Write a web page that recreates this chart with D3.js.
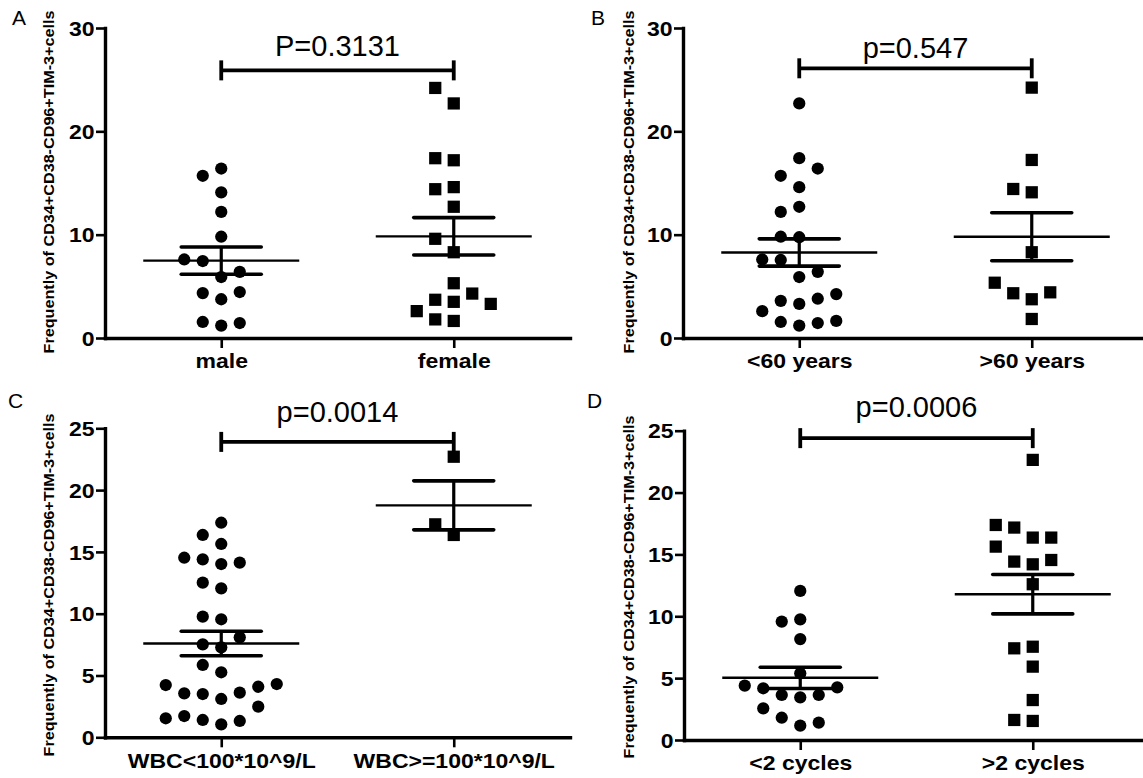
<!DOCTYPE html>
<html>
<head>
<meta charset="utf-8">
<script src="https://cdn.jsdelivr.net/npm/d3@7"></script>
<style>
body { margin: 0; background: #fff; }
text { font-family: "Liberation Sans", Arial, sans-serif; fill: #000; }
</style>
</head>
<body>
<svg id="fig" width="1143" height="778"></svg>
<script>
// values, listed in the order the points get placed
const maleVals = [16.4, 15.7, 14.1, 12.2, 9.8, 5.9, 7.45, 6.4, 7.6, 3.75, 4.35, 4.45, 1.2, 1.55, 1.45]
const femaleVals = [22.7, 24.2, 17.2, 17.4, 14.6, 14.4, 12.7, 8.3, 9.6, 3.5, 3.7, 4.3, 2.6, 3.3, 5.3, 1.65, 1.8]
const under60Vals = [22.7, 17.4, 15.7, 16.4, 14.6, 12.7, 12.2, 9.75, 9.8, 5.9, 7.55, 6.4, 7.6, 3.3, 3.6, 3.8, 2.6, 4.25, 1.2, 1.55, 1.45, 1.65]
const over60Vals = [24.23, 17.23, 14.1, 14.42, 8.3, 3.75, 4.33, 4.42, 5.35, 1.84]
const wbcLowVals = [17.36, 16.37, 15.64, 14.02, 14.4, 14.13, 14.53, 12.05, 12.51, 9.55, 9.76, 7.28, 7.52, 8.09, 5.26, 5.85, 3.1, 3.5, 3.61, 3.56, 4.09, 4.23, 4.31, 2.48, 1.05, 1.40, 1.32, 1.72, 1.54]
const wbcHighVals = [22.7, 16.37, 17.23]
const under2Vals = [12.05, 9.75, 9.57, 8.16, 5.39, 3.45, 3.64, 3.64, 4.18, 4.26, 4.39, 2.56, 1.16, 1.80, 1.40]
const over2Vals = [22.64, 16.36, 17.17, 16.36, 14.2, 14.42, 14.55, 17.38, 15.63, 12.59, 7.54, 7.41, 5.93, 3.23, 1.54, 1.62]

const catsA = ['male', 'female']
const catsB = ['<60 years', '>60 years']
const catsC = ['WBC<100*10^9/L', 'WBC>=100*10^9/L']
const catsD = ['<2 cycles', '>2 cycles']
const pTexts = ['P=0.3131', 'p=0.547', 'p=0.0014', 'p=0.0006']
const ticks30 = [0, 10, 20, 30]
const ticks25 = [0, 5, 10, 15, 20, 25]
const yTitle = 'Frequently of CD34+CD38-CD96+TIM-3+cells'

const panels = [
	{ letter: 'A', cats: catsA, groups: [maleVals, femaleVals], max: 30, ticks: ticks30, p: pTexts[0],
		left: 105, right: 570, bottom: 338, top: 28, bracket: 25.9, pAt: 27.3, lx: 12, ly: 25, tx: 54, ty: 182 },
	{ letter: 'B', cats: catsB, groups: [under60Vals, over60Vals], max: 30, ticks: ticks30, p: pTexts[1],
		left: 683, right: 1148, bottom: 338, top: 28, bracket: 26.1, pAt: 27.1, lx: 591, ly: 25, tx: 634, ty: 182 },
	{ letter: 'C', cats: catsC, groups: [wbcLowVals, wbcHighVals], max: 25, ticks: ticks25, p: pTexts[2],
		left: 105, right: 570, bottom: 737.3, top: 428.3, bracket: 23.9, pAt: 25.5, lx: 8, ly: 408, tx: 54, ty: 585 },
	{ letter: 'D', cats: catsD, groups: [under2Vals, over2Vals], max: 25, ticks: ticks25, p: pTexts[3],
		left: 684, right: 1149, bottom: 740, top: 430.7, bracket: 24.4, pAt: 26.1, lx: 587, ly: 408, tx: 634, ty: 587 }
]

const svg = d3.select('#fig')
svg.append('rect').attr('width', 1143).attr('height', 778).attr('fill', '#fff')

const slotW = 18.5      // horizontal step between dodged points
const minGap = 18       // points in one slot closer than this get pushed aside
const slotOrder = [0, -1, 1, -2, 2, -3, 3, -4, 4]
const stretch = 1.15    // the figure's labels are a bit wider than tall

// place points greedily: first free slot in slotOrder
function dodge (vals, y) {
	const placed = []
	vals.forEach(v => {
		const py = y(v)
		const slot = slotOrder.find(s => !placed.some(p => p.slot === s && Math.abs(p.py - py) < minGap))
		placed.push({ v, py, slot })
	})
	return placed
}

function meanSem (vals) {
	const m = d3.mean(vals)
	return { m, sem: d3.deviation(vals) / Math.sqrt(vals.length) }
}

panels.forEach(pn => {
	const g = svg.append('g')
	const y = d3.scaleLinear().domain([0, pn.max]).range([pn.bottom, pn.top])
	const x = d3.scalePoint().domain(pn.cats).range([pn.left, pn.right]).padding(0.5)

	// points
	pn.groups.forEach((vals, gi) => {
		const cx = x(pn.cats[gi])
		const sym = d3.symbol().type(gi === 0 ? d3.symbolCircle : d3.symbolSquare).size(gi === 0 ? 118 : 150)
		g.append('g').selectAll('path').data(dodge(vals, y)).enter().append('path')
			.attr('d', sym)
			.attr('transform', d => `translate(${cx + d.slot * slotW},${d.py})`)
			.attr('fill', '#000')

		// mean +- SEM
		const s = meanSem(vals)
		const eb = g.append('g').attr('stroke', '#000').attr('fill', 'none')
		eb.append('line').attr('x1', cx - 78).attr('x2', cx + 78)
			.attr('y1', y(s.m)).attr('y2', y(s.m)).attr('stroke-width', 2.4)
		eb.append('line').attr('x1', cx).attr('x2', cx)
			.attr('y1', y(s.m + s.sem)).attr('y2', y(s.m - s.sem)).attr('stroke-width', 3.2)
		;[s.m + s.sem, s.m - s.sem].forEach(v => {
			eb.append('line').attr('x1', cx - 40).attr('x2', cx + 40)
				.attr('y1', y(v)).attr('y2', y(v)).attr('stroke-width', 3.6).attr('stroke-linecap', 'round')
		})
	})

	// axes
	const yAxis = g.append('g').attr('transform', `translate(${pn.left},0)`)
		.call(d3.axisLeft(y).tickValues(pn.ticks).tickSize(9).tickSizeOuter(0).tickPadding(2))
	const xAxis = g.append('g').attr('transform', `translate(0,${pn.bottom})`)
		.call(d3.axisBottom(x).tickSize(10).tickSizeOuter(0))
	;[yAxis, xAxis].forEach(a => {
		a.select('.domain').attr('stroke', '#000').attr('stroke-width', 3.4).attr('stroke-linecap', 'square')
		a.selectAll('.tick line').attr('stroke', '#000').attr('stroke-width', 2.6)
		a.attr('font-family', null).attr('font-size', null)
	})
	yAxis.selectAll('.tick text')
		.attr('x', -10.5 / stretch).attr('dy', '0.36em')
		.attr('transform', `scale(${stretch},1)`)
		.style('font-size', '20px').style('font-weight', 'bold')
	xAxis.selectAll('.tick text')
		.attr('y', 30.5).attr('dy', null).attr('x', 0)
		.attr('transform', `scale(${stretch},1)`)
		.style('font-size', '20px').style('font-weight', 'bold')

	// significance bracket
	const x1 = x(pn.cats[0]), x2 = x(pn.cats[1]), by = y(pn.bracket)
	const br = g.append('g').attr('stroke', '#000').attr('stroke-width', 3.8)
	br.append('line').attr('x1', x1).attr('x2', x2).attr('y1', by).attr('y2', by)
	;[x1, x2].forEach(xx => br.append('line').attr('x1', xx).attr('x2', xx).attr('y1', by - 10).attr('y2', by + 10))
	g.append('text').attr('x', (x1 + x2) / 2).attr('y', y(pn.pAt))
		.attr('text-anchor', 'middle').style('font-size', '29px').text(pn.p)

	// panel letter and y title
	g.append('text').attr('x', pn.lx).attr('y', pn.ly).style('font-size', '21px').text(pn.letter)
	g.append('text').attr('transform', `translate(${pn.tx},${pn.ty}) rotate(-90)`)
		.attr('text-anchor', 'middle').style('font-size', '15px').style('font-weight', 'bold')
		.attr('textLength', 343).attr('lengthAdjust', 'spacingAndGlyphs')
		.text(yTitle)
})
</script>
</body>
</html>
